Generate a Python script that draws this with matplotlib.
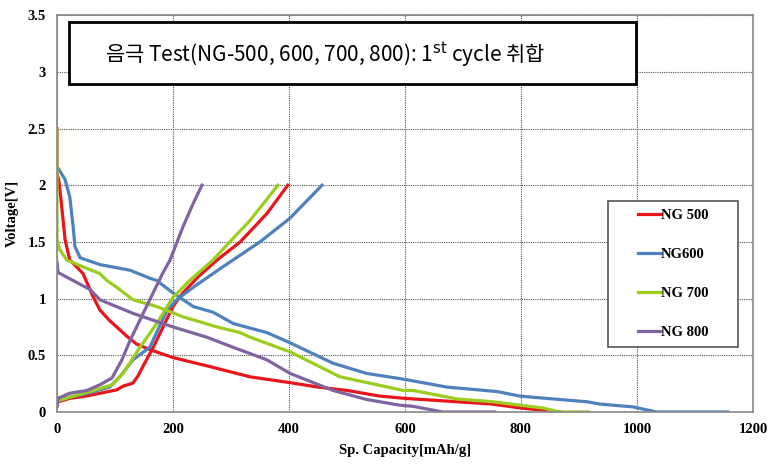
import numpy as np
import matplotlib.pyplot as plt
from matplotlib.patches import Rectangle
from matplotlib.ticker import FormatStrFormatter

# NG 500
ng500_dis_cap = [0, 0, 3, 7, 14, 22, 34, 45, 62, 74, 90, 103, 120, 137, 160, 200, 264, 333, 400, 450, 500, 557, 600, 690, 750, 800, 840, 867]
ng500_dis_v = [2.5, 2.1, 2.05, 1.87, 1.52, 1.34, 1.28, 1.22, 1.02, 0.90, 0.81, 0.75, 0.67, 0.60, 0.55, 0.48, 0.40, 0.31, 0.26, 0.22, 0.19, 0.14, 0.12, 0.09, 0.07, 0.035, 0.015, 0]
ng500_chg_cap = [0, 2, 22, 50, 74, 103, 115, 122, 131, 140, 148, 166, 183, 200, 217, 245, 276, 316, 362, 398]
ng500_chg_v = [0.05, 0.09, 0.12, 0.14, 0.165, 0.195, 0.23, 0.24, 0.255, 0.32, 0.40, 0.57, 0.75, 0.93, 1.05, 1.20, 1.34, 1.50, 1.75, 2.0]

# NG600
ng600_dis_cap = [0, 2, 14, 22, 28, 31, 40, 74, 126, 160, 172, 200, 235, 269, 304, 362, 402, 476, 534, 597, 672, 759, 798, 867, 914, 936, 993, 1034, 1157]
ng600_dis_v = [2.15, 2.15, 2.05, 1.9, 1.63, 1.46, 1.36, 1.30, 1.25, 1.18, 1.16, 1.05, 0.93, 0.88, 0.78, 0.70, 0.61, 0.43, 0.34, 0.29, 0.22, 0.18, 0.14, 0.11, 0.09, 0.07, 0.045, 0, 0]
ng600_chg_cap = [0, 2, 22, 57, 91, 110, 131, 160, 190, 209, 235, 286, 350, 402, 457]
ng600_chg_v = [0.05, 0.1, 0.13, 0.17, 0.22, 0.32, 0.46, 0.57, 0.9, 1.0, 1.10, 1.28, 1.50, 1.71, 2.0]

# NG 700
ng700_dis_cap = [0, 0, 5, 17, 45, 74, 86, 103, 131, 172, 217, 276, 316, 333, 402, 488, 534, 597, 614, 690, 752, 798, 838, 867, 916]
ng700_dis_v = [2.49, 1.52, 1.43, 1.34, 1.28, 1.22, 1.16, 1.10, 0.99, 0.93, 0.84, 0.75, 0.70, 0.66, 0.53, 0.31, 0.26, 0.19, 0.19, 0.115, 0.09, 0.06, 0.035, 0, 0]
ng700_chg_cap = [0, 2, 22, 57, 95, 114, 143, 172, 200, 229, 269, 298, 333, 381]
ng700_chg_v = [0.05, 0.1, 0.13, 0.18, 0.24, 0.34, 0.57, 0.78, 1.01, 1.16, 1.34, 1.50, 1.69, 2.0]

# NG 800
ng800_dis_cap = [0, 2, 57, 74, 131, 200, 258, 304, 362, 402, 476, 534, 591, 614, 665, 755]
ng800_dis_v = [1.32, 1.23, 1.08, 0.99, 0.87, 0.75, 0.66, 0.57, 0.46, 0.34, 0.19, 0.11, 0.06, 0.05, 0, 0]
ng800_chg_cap = [0, 2, 22, 52, 74, 95, 112, 126, 143, 160, 183, 195, 217, 235, 250]
ng800_chg_v = [0.05, 0.12, 0.165, 0.19, 0.24, 0.30, 0.46, 0.63, 0.81, 0.99, 1.23, 1.34, 1.63, 1.84, 2.0]

labels = ["NG 500", "NG600", "NG 700", "NG 800"]
colors = ["#E8151B", "#4F81BD", "#9ACD1E", "#8064A2"]

series = [
    (ng500_dis_cap, ng500_dis_v, ng500_chg_cap, ng500_chg_v),
    (ng600_dis_cap, ng600_dis_v, ng600_chg_cap, ng600_chg_v),
    (ng700_dis_cap, ng700_dis_v, ng700_chg_cap, ng700_chg_v),
    (ng800_dis_cap, ng800_dis_v, ng800_chg_cap, ng800_chg_v),
]

fig = plt.figure(figsize=(7.75, 4.73), dpi=100)
ax = fig.add_axes([0.0735, 0.129, 0.898, 0.839])

handles = []
for (dc, dv, cc, cv), lab, col in zip(series, labels, colors):
    h, = ax.plot(dc, dv, color=col, lw=2.3, label=lab, solid_joinstyle='round')
    ax.plot(cc, cv, color=col, lw=2.3, solid_joinstyle='round')
    handles.append(h)

ax.set_xlim(0, 1200)
ax.set_ylim(0, 3.5)
ax.set_xticks(np.arange(0, 1201, 200))
ax.set_yticks(np.arange(0, 3.51, 0.5))
ax.yaxis.set_major_formatter(FormatStrFormatter('%g'))
ax.grid(True, color='#555555', linestyle=(0, (1, 1)), lw=0.8)
ax.tick_params(length=0, pad=8)
for lab in ax.get_xticklabels() + ax.get_yticklabels():
    lab.set_fontfamily('Liberation Serif')
    lab.set_fontweight('bold')
    lab.set_fontsize(10.5)
for sp in ax.spines.values():
    sp.set_color('#888888')
    sp.set_linewidth(1.2)

ax.set_xlabel("Sp. Capacity[mAh/g]", fontfamily='Liberation Serif', fontweight='bold', fontsize=10.5, labelpad=6)
ax.set_ylabel("Voltage[V]", fontfamily='Liberation Serif', fontweight='bold', fontsize=10.5, labelpad=6)

leg = fig.legend(handles=handles, loc='center',
                 bbox_to_anchor=(0.7845, 0.2664, 0.1677, 0.3087),
                 bbox_transform=fig.transFigure,
                 prop={'family': 'Liberation Serif', 'weight': 'bold', 'size': 10.5},
                 handlelength=1.6, handletextpad=0.0, labelspacing=1.75,
                 frameon=False)
fig.patches.append(Rectangle((0.7845, 0.2664), 0.1677, 0.3087, transform=fig.transFigure,
                             facecolor='white', edgecolor='#555555', lw=1.2, zorder=2))
leg.set_zorder(3)

fig.patches.append(Rectangle((0.089, 0.8224), 0.7316, 0.1311, transform=fig.transFigure,
                             facecolor='white', edgecolor='black', lw=2, zorder=2))
fig.text(0.135, 0.884, "음극 Test(NG-500, 600, 700, 800): 1$^{\\rm st}$ cycle 취합",
         family=['Noto Sans CJK KR', 'DejaVu Sans'], fontsize=15, va='center', zorder=3)

fig.savefig("out.png", dpi=100)
